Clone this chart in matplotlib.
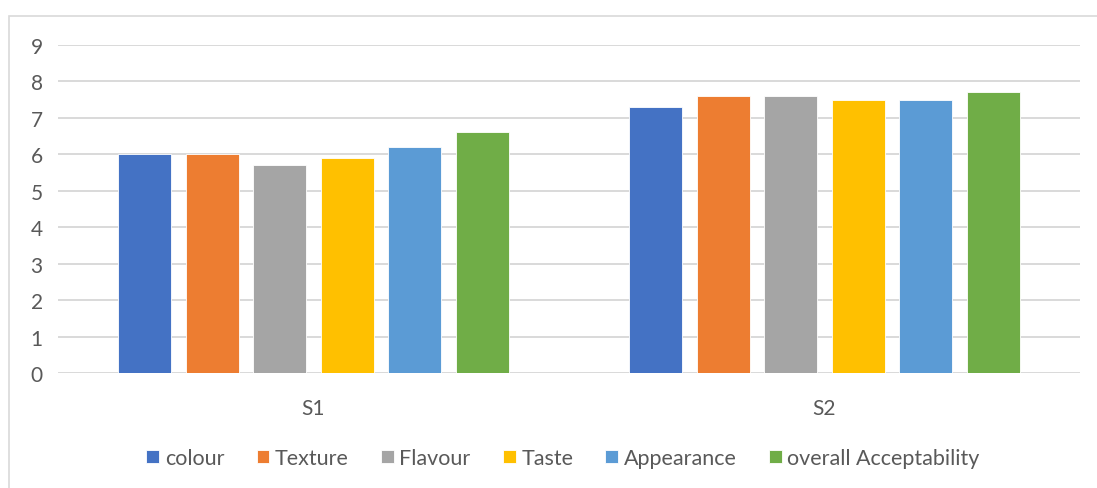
import matplotlib.pyplot as plt
import matplotlib.patches as patches
import numpy as np

groups = ['S1', 'S2']
attributes = ['colour', 'Texture', 'Flavour', 'Taste', 'Appearance', 'overall Acceptability']
values = {
    'colour': [6.0, 7.3],
    'Texture': [6.0, 7.6],
    'Flavour': [5.7, 7.6],
    'Taste': [5.9, 7.5],
    'Appearance': [6.2, 7.5],
    'overall Acceptability': [6.6, 7.7],
}
colors = ['#4472C4', '#ED7D31', '#A5A5A5', '#FFC000', '#5B9BD5', '#70AD47']
yticks = list(range(0, 10))

plt.rcParams['font.family'] = ['Lato', 'DejaVu Sans']
txt = '#595959'

fig = plt.figure(figsize=(10.97, 4.89), dpi=100)
fig.patches.append(patches.Rectangle((9 / 1097, -0.1), 1.2, (489 - 17) / 489 + 0.1,
                                     transform=fig.transFigure, fill=False,
                                     edgecolor='#d9d9d9', linewidth=1.2))
ax = fig.add_axes([58 / 1097, 115 / 489, 1022 / 1097, 328 / 489])

x = np.arange(len(groups))
step = 0.132
width = 0.104
n = len(attributes)
for i, (name, col) in enumerate(zip(attributes, colors)):
    offs = (i - (n - 1) / 2) * step
    ax.bar(x + offs, values[name], width, color=col, label=name, zorder=3,
           edgecolor='white', linewidth=0.6)

ax.set_xlim(-0.5, 1.5)
ax.set_ylim(0, 9)
ax.set_yticks(yticks)
ax.set_xticks(x)
ax.set_xticklabels(groups)
ax.yaxis.grid(True, color='#d9d9d9', linewidth=1.4, zorder=0)
ax.set_axisbelow(True)
for s in ax.spines.values():
    s.set_visible(False)
ax.tick_params(axis='both', length=0, labelsize=15, colors=txt)
ax.tick_params(axis='y', pad=11)
ax.tick_params(axis='x', pad=18)

leg = fig.legend(loc='center', bbox_to_anchor=(563 / 1097, 30 / 489), ncol=6,
                 frameon=False, fontsize=15.5, handlelength=0.6, handleheight=0.6,
                 handletextpad=0.25, columnspacing=1.5)
for t in leg.get_texts():
    t.set_color(txt)

fig.savefig('out.png', dpi=100)
